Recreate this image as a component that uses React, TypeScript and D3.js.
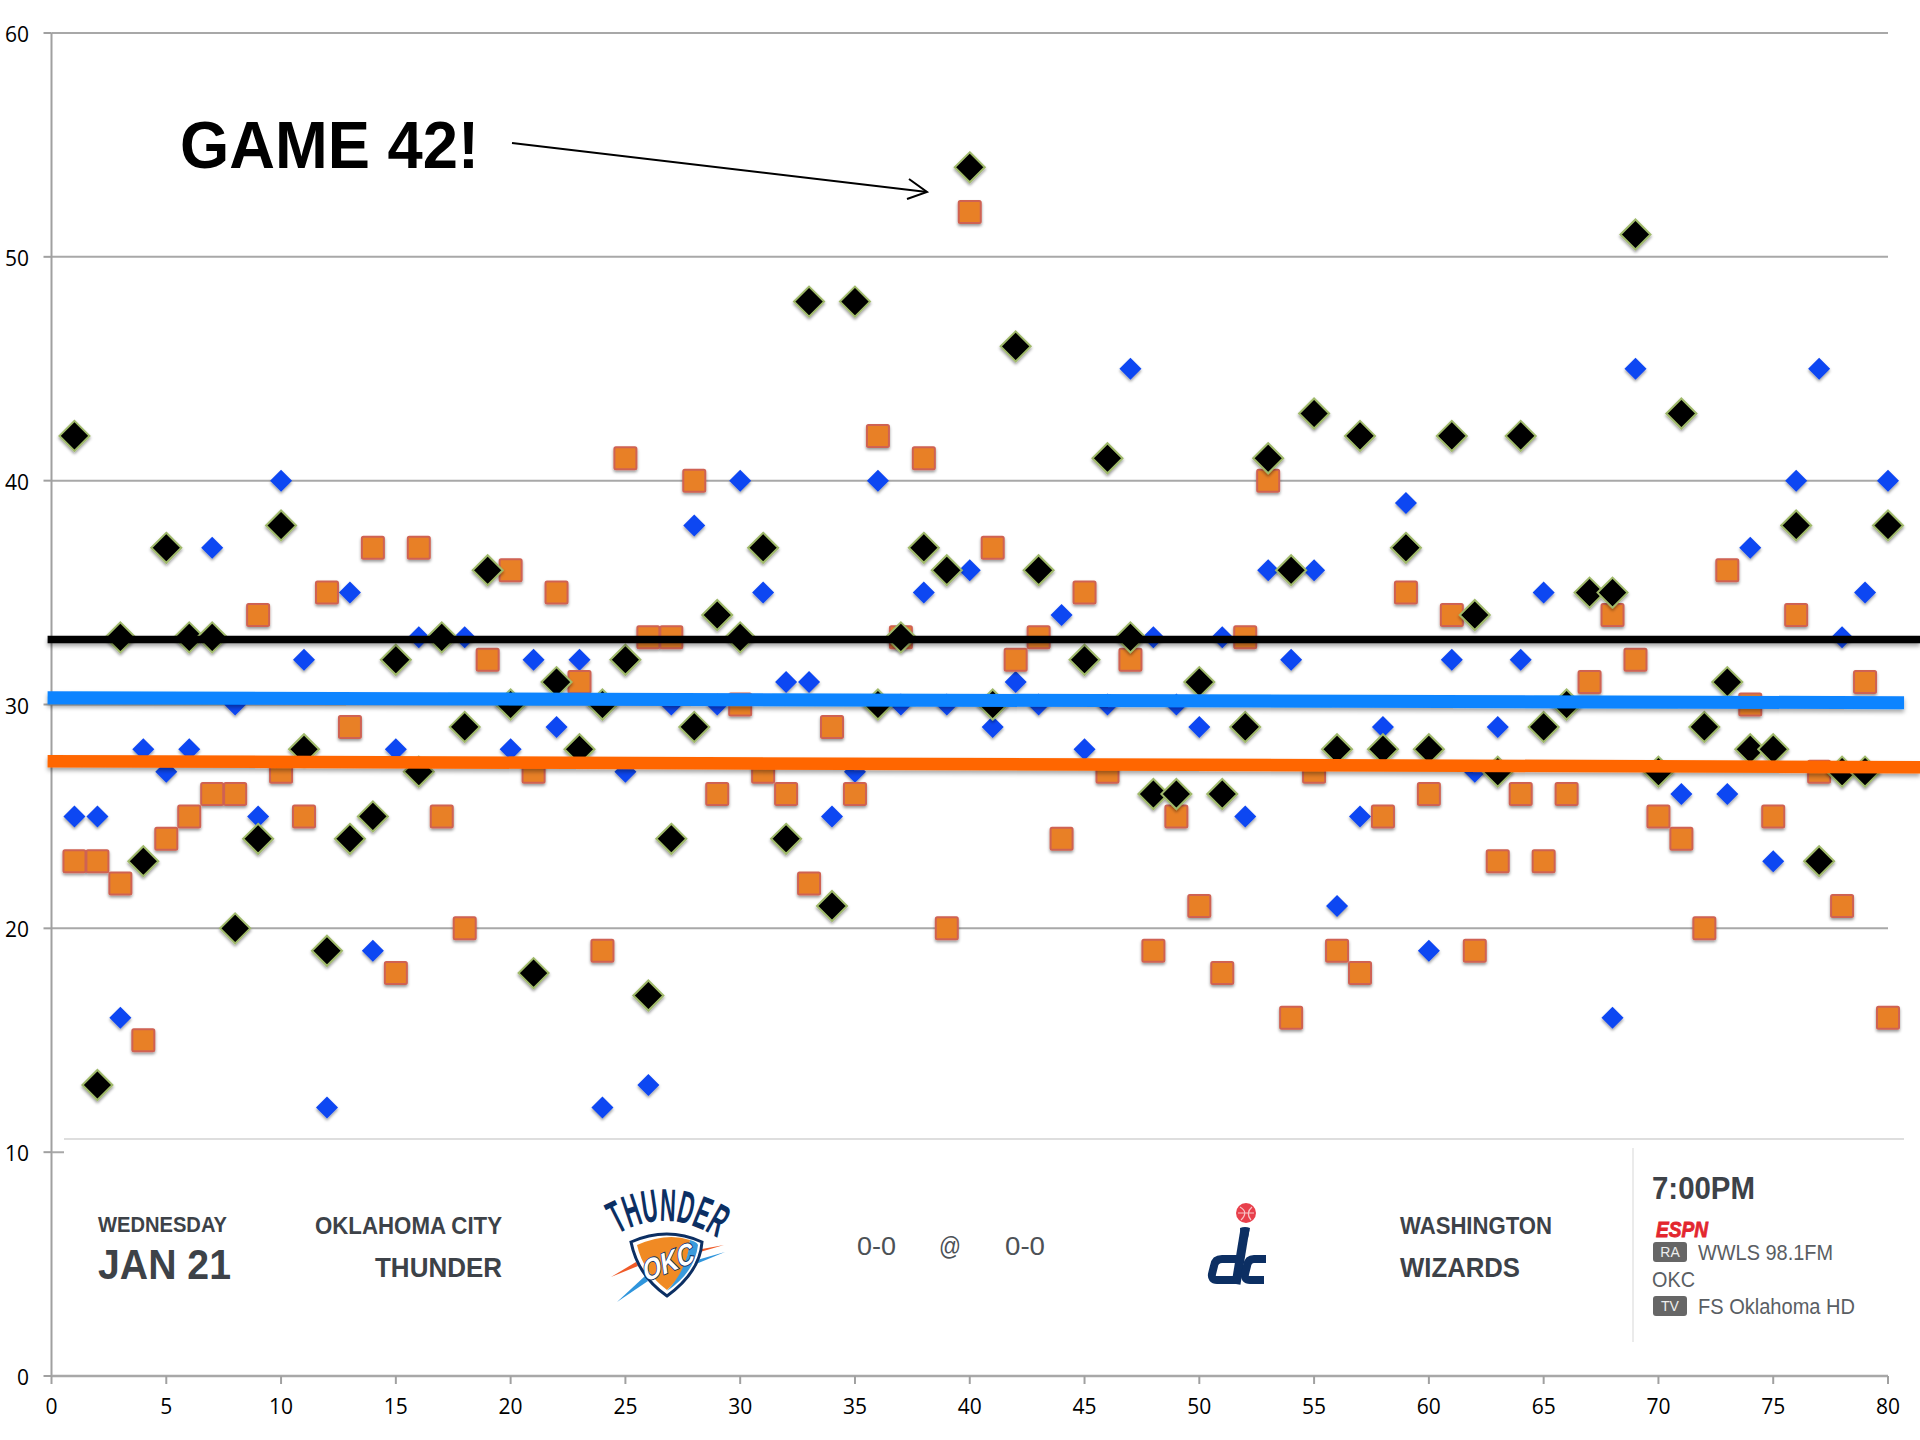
import React from "react";
import * as d3 from "d3";

const blackValues: (number | null)[] = [42,13,33,23,37,33,33,20,24,38,28,19,24,25,32,27,33,29,36,30,18,31,28,30,32,17,24,29,34,33,37,24,48,21,48,30,33,37,36,54,30,46,36,null,32,41,33,26,26,31,26,29,41,36,43,28,42,28,37,28,42,34,27,42,29,30,35,35,51,27,43,29,31,28,28,38,23,27,27,38];
const blueValues: number[] = [25,25,16,28,27,28,37,30,25,40,32,12,35,19,28,33,33,33,36,28,32,29,32,12,27,13,30,38,30,40,35,31,31,25,27,40,30,35,30,36,29,31,30,34,28,30,45,33,30,29,33,25,36,32,36,21,25,29,39,19,32,27,29,32,35,30,35,16,45,27,26,29,26,37,23,40,45,33,35,40];
const orangeValues: number[] = [23,23,22,15,24,25,26,26,34,27,25,35,29,37,18,37,25,20,32,36,27,35,31,19,41,33,33,40,26,30,27,26,22,29,26,42,33,41,20,52,37,32,33,24,35,27,32,19,25,21,18,33,40,16,27,19,18,25,35,26,34,19,23,26,23,26,31,34,32,25,24,20,36,30,25,34,27,21,31,16];
const blackTrend: [number, number][] = [[-0.17, 32.9], [81.4, 32.9]];
const blueTrend: [number, number][] = [[-0.17, 30.3], [80.7, 30.08]];
const orangeTrend: [number, number][] = [[-0.17, 27.47], [81.4, 27.2]];
const xTicks = d3.range(0, 81, 5);
const yTicks = [0, 10, 20, 30, 40, 50, 60];
const gridTicks = [20, 30, 40, 50, 60];

const x = d3.scaleLinear().domain([0, 80]).range([51.5, 1888]);
const y = d3.scaleLinear().domain([0, 60]).range([1376, 33]);
const trendLine = d3.line<[number, number]>().x((d) => x(d[0])).y((d) => y(d[1]));
const sans = "'Liberation Sans', Arial, sans-serif";
const narrow = "'Liberation Sans Narrow', 'Liberation Sans', sans-serif";
const tickFont = "'Open Sans', sans-serif";
const darkText = "#3d4248";
const navy = "#0c2f63";

const Shadow = ({ id, dy, blur, op, soft }: { id: string; dy: number; blur: number; op: number; soft: number }) => (
  <filter id={id} filterUnits="userSpaceOnUse" x="0" y="0" width="1920" height="1440">
    <feGaussianBlur in="SourceGraphic" stdDeviation={soft} result="soft" />
    <feDropShadow in="soft" dx="0" dy={dy} stdDeviation={blur} floodColor="#000" floodOpacity={op} />
  </filter>
);

const ThunderLogo = () => (
  <g>
    <defs>
      <path id="arc" d="M 618,1234 Q 667,1206 717,1238" fill="none" />
    </defs>
    <path d="M 724,1245 L 700,1252 L 702,1249 Z" fill="#f05a28" />
    <path d="M 611,1277 L 636,1262 L 638,1266 Z" fill="#f05a28" />
    <path d="M 725,1252 L 696,1264 L 697,1260 Z" fill="#2f95dc" />
    <path d="M 617,1302 L 645,1276 L 648,1281 Z" fill="#2f95dc" />
    <text fontFamily={narrow} fontWeight="700" fontSize="46" fill={navy}>
      <textPath href="#arc" startOffset="50%" textAnchor="middle" textLength="106" lengthAdjust="spacingAndGlyphs">THUNDER</textPath>
    </text>
    <path d="M 631,1242 Q 667,1226 702,1242 Q 700,1272 667,1296 Q 638,1276 631,1242 Z" fill="#fff" stroke={navy} strokeWidth="3" />
    <path d="M 637,1245 Q 667,1232 690,1240 Q 688,1272 667,1290 Q 643,1272 637,1245 Z" fill="#f08a24" />
    <path d="M 690,1240 Q 697,1242 698,1245 Q 695,1272 667,1291 Q 688,1268 690,1240 Z" fill="#3a9bdc" />
    <text transform="translate(645,1282) rotate(-22) skewX(-14)" fontFamily={sans} fontWeight="700" fontSize="29" fill="#fff" stroke={navy} strokeWidth="1.8" paintOrder="stroke" textLength="54" lengthAdjust="spacingAndGlyphs">OKC</text>
  </g>
);

const WizardsLogo = () => (
  <g fill="none" stroke={navy} strokeWidth="8">
    <circle cx="1246" cy="1213" r="10" fill="#e8404c" stroke="none" />
    <path d="M 1238,1213 H 1254 M 1240,1207 Q 1249,1212 1241,1220 M 1252,1207 Q 1245,1213 1251,1220" stroke="#f7c5c8" strokeWidth="1.2" />
    <path d="M 1245,1229 L 1236,1284" strokeWidth="9" />
    <path d="M 1240,1228 Q 1245,1226 1250,1228 L 1248,1238 L 1241,1238 Z" fill={navy} stroke="none" />
    <path d="M 1238,1259 L 1222,1259 Q 1215,1259 1214,1266 L 1212,1274 Q 1211,1280 1217,1280 L 1238,1280" />
    <path d="M 1266,1259 L 1254,1259 Q 1248,1259 1247,1266 L 1245,1274 Q 1244,1280 1250,1280 L 1264,1280" />
  </g>
);

const Badge = ({ label, top }: { label: string; top: number }) => (
  <g>
    <rect x="1653" y={top} width="34" height="20" rx="3" fill="#666" />
    <text x="1670" y={top + 15} textAnchor="middle" fontFamily={sans} fontSize="14" fill="#eee">{label}</text>
  </g>
);

export default function App() {
  const diamond = (cx: number, cy: number, r: number) =>
    `M ${cx},${cy - r} L ${cx + r},${cy} L ${cx},${cy + r} L ${cx - r},${cy} Z`;
  return (
    <svg width="1920" height="1440" viewBox="0 0 1920 1440" style={{ position: "absolute", left: 0, top: 0, display: "block", background: "#fff" }}>
      <defs>
        <Shadow id="markShadow" dy={2} blur={1.8} op={0.4} soft={0.5} />
        <Shadow id="lineShadow" dy={3} blur={2} op={0.35} soft={0.2} />
      </defs>

      {gridTicks.map((t) => (
        <line key={t} x1={x(0)} x2={x(80)} y1={y(t)} y2={y(t)} stroke="#a8a8a8" strokeWidth="2" />
      ))}
      <line x1={x(0)} x2={x(0)} y1={y(60)} y2={y(0)} stroke="#a0a0a0" strokeWidth="2" />
      <line x1={x(0)} x2={x(80)} y1={y(0)} y2={y(0)} stroke="#a8a8a8" strokeWidth="2.5" />
      <line x1={x(0)} x2={x(80)} y1={y(10)} y2={y(10)} stroke="#a8a8a8" strokeWidth="2" />
      {yTicks.map((t) => (
        <g key={t}>
          <line x1={x(0) - 8} x2={x(0)} y1={y(t)} y2={y(t)} stroke="#a0a0a0" strokeWidth="2" />
          <text x={29} y={y(t) + 9} textAnchor="end" fontFamily={tickFont} fontSize="21" fill="#000">{t}</text>
        </g>
      ))}
      {xTicks.map((t) => (
        <g key={t}>
          <line x1={x(t)} x2={x(t)} y1={y(0)} y2={y(0) + 8} stroke="#a0a0a0" strokeWidth="2" />
          <text x={x(t)} y={1414} textAnchor="middle" fontFamily={tickFont} fontSize="21" fill="#000">{t}</text>
        </g>
      ))}

      {/* schedule strip laid over the plot */}
      <rect x="64" y="1139" width="1840" height="232" fill="#fff" />
      <line x1="64" x2="1904" y1="1139" y2="1139" stroke="#dedede" strokeWidth="2" />
      <line x1="1633" x2="1633" y1="1148" y2="1342" stroke="#e4e4e4" strokeWidth="1.5" />
      <g fontFamily={sans} fontWeight="700" fill={darkText}>
        <text x="98" y="1232" fontSize="22" textLength="129" lengthAdjust="spacingAndGlyphs">WEDNESDAY</text>
        <text x="98" y="1279" fontSize="42" textLength="133" lengthAdjust="spacingAndGlyphs">JAN 21</text>
        <text x="315" y="1234" fontSize="24" textLength="187" lengthAdjust="spacingAndGlyphs">OKLAHOMA CITY</text>
        <text x="375" y="1277" fontSize="28" textLength="127" lengthAdjust="spacingAndGlyphs">THUNDER</text>
        <text x="1400" y="1234" fontSize="24" textLength="152" lengthAdjust="spacingAndGlyphs">WASHINGTON</text>
        <text x="1400" y="1277" fontSize="28" textLength="120" lengthAdjust="spacingAndGlyphs">WIZARDS</text>
        <text x="1652" y="1199" fontSize="31" textLength="103" lengthAdjust="spacingAndGlyphs">7:00PM</text>
      </g>
      <g fontFamily={sans} fontSize="25" fill="#4c5156">
        <text x="857" y="1255" textLength="39" lengthAdjust="spacingAndGlyphs">0-0</text>
        <text x="939" y="1255" textLength="22" lengthAdjust="spacingAndGlyphs">@</text>
        <text x="1005" y="1255" textLength="40" lengthAdjust="spacingAndGlyphs">0-0</text>
      </g>
      <text x="1656" y="1237" fontFamily={sans} fontWeight="700" fontStyle="italic" fontSize="22" fill="#e3262e" stroke="#e3262e" strokeWidth="0.8" textLength="52" lengthAdjust="spacingAndGlyphs">ESPN</text>
      <Badge label="RA" top={1242} />
      <Badge label="TV" top={1296} />
      <g fontFamily={sans} fontSize="22" fill="#5a5e63">
        <text x="1698" y="1260" textLength="135" lengthAdjust="spacingAndGlyphs">WWLS 98.1FM</text>
        <text x="1652" y="1287" textLength="43" lengthAdjust="spacingAndGlyphs">OKC</text>
        <text x="1698" y="1314" textLength="157" lengthAdjust="spacingAndGlyphs">FS Oklahoma HD</text>
      </g>
      <ThunderLogo />
      <WizardsLogo />

      <g filter="url(#markShadow)">
        {blueValues.map((v, i) => (
          <path key={i} d={diamond(x(i + 1), y(v), 11)} fill="#0f46f2" />
        ))}
      </g>
      <g filter="url(#markShadow)">
        {orangeValues.map((v, i) => (
          <rect key={i} x={x(i + 1) - 11} y={y(v) - 11} width="22" height="22" rx="1.5" fill="#e88026" stroke="#cf6253" strokeWidth="2" />
        ))}
      </g>
      <g filter="url(#markShadow)">
        {blackValues.map((v, i) =>
          v === null ? null : (
            <path key={i} d={diamond(x(i + 1), y(v), 15)} fill="#000" stroke="#9fb96a" strokeWidth="2" />
          )
        )}
      </g>

      <g fill="none" filter="url(#lineShadow)">
        <path d={trendLine(blackTrend) as string} stroke="#000" strokeWidth="7.5" />
        <path d={trendLine(blueTrend) as string} stroke="#0a84ff" strokeWidth="13" />
        <path d={trendLine(orangeTrend) as string} stroke="#ff6600" strokeWidth="12.5" />
      </g>

      <text x="180" y="168" fontFamily={sans} fontWeight="700" fontSize="66" fill="#000" textLength="299" lengthAdjust="spacingAndGlyphs">GAME 42!</text>
      <g fill="none" stroke="#000" strokeWidth="2">
        <line x1="512" y1="143" x2="927" y2="192" />
        <path d="M 909,179 L 927,192 L 907,199" />
      </g>
    </svg>
  );
}
